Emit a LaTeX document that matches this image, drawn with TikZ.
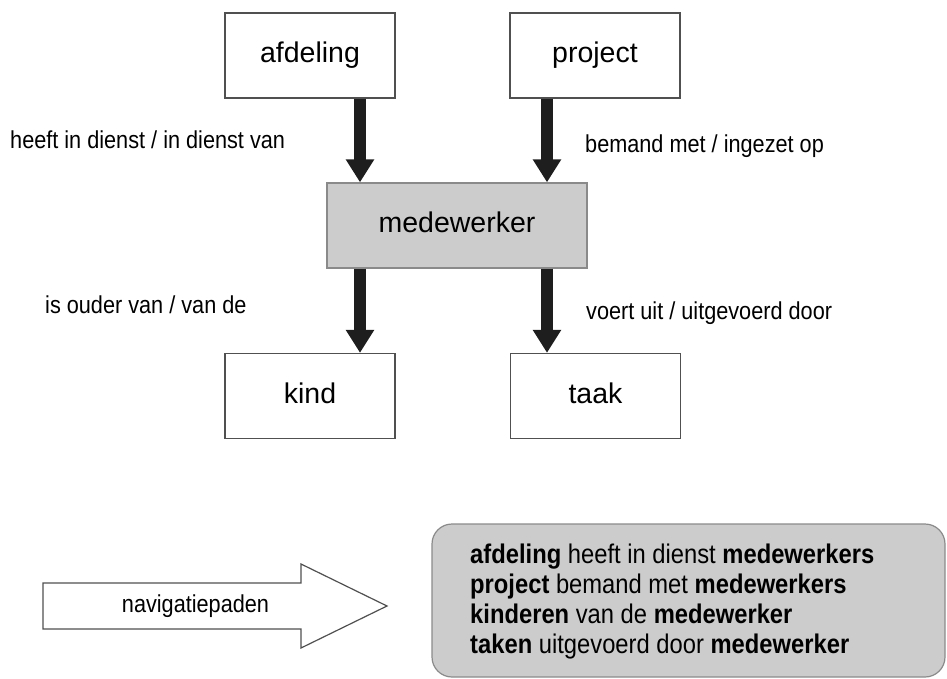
\documentclass[tikz,border=0pt]{standalone}
\usepackage{fontspec}
\setmainfont{Liberation Sans}
\newfontfamily\narrowfont[FakeStretch=0.885]{Liberation Sans}
\newfontfamily\panelfont[FakeStretch=0.88]{Liberation Sans}
\usetikzlibrary{arrows.meta}

\definecolor{boxline}{HTML}{505050}
\definecolor{greyfill}{HTML}{CCCCCC}
\definecolor{greyline}{HTML}{8A8A8A}
\definecolor{arrowink}{HTML}{1E1E1E}

\begin{document}
\begin{tikzpicture}[x=1pt,y=-1pt,
  entity/.style={draw=boxline, line width=1.3pt, fill=white,
    minimum width=170pt, minimum height=85pt, inner sep=0pt,
    font=\fontsize{28.5}{34}\selectfont, text height=21pt, text depth=6pt},
  central/.style={entity, fill=greyfill, draw=greyline, minimum width=260pt},
  relation/.style={anchor=base west, inner sep=0pt,
    font=\narrowfont\fontsize{24.5}{28}\selectfont},
  navline/.style={anchor=base west, inner sep=0pt,
    font=\panelfont\fontsize{27}{30}\selectfont},
  bigarrow/.style={draw=arrowink, line width=12pt,
    -{Triangle[width=27pt,length=23pt]}},
  navarrow/.style={draw=boxline, line width=1.2pt, fill=white, line join=miter},
  panel/.style={draw=greyline, line width=1.2pt, fill=greyfill,
    rounded corners=20pt, minimum width=513pt, minimum height=153pt, inner sep=0pt}
]
\useasboundingbox (0,0) rectangle (947,679);

% entities
\node[entity]  (afd)  at (310,55.5)  {afdeling};
\node[entity]  (proj) at (595,55.5)  {project};
\node[central] (med)  at (457,225.5) {medewerker};
\node[entity]  (kind) at (310,396)   {kind};
\node[entity]  (taak) at (595.5,396) {taak};

% columns of the relation arrows
\coordinate (xl) at (360,0);
\coordinate (xr) at (547,0);

\draw[bigarrow] (afd.south -| xl)  -- (med.north -| xl);
\draw[bigarrow] (proj.south -| xr) -- (med.north -| xr);
\draw[bigarrow] (med.south -| xl)  -- (kind.north -| xl);
\draw[bigarrow] (med.south -| xr)  -- (taak.north -| xr);

% relation names
\node[relation] (r1) at (10,149)  {heeft in dienst / in dienst van};
\node[relation] (r2) at (585,153) {bemand met / ingezet op};
\node[relation] (r3) at (45,313)  {is ouder van / van de};
\node[relation] (r4) at (586,319) {voert uit / uitgevoerd door};

% navigation arrow
\draw[navarrow] (43,583) -- (301,583) -- (301,564) -- (387,606)
  -- (301,648) -- (301,629) -- (43,629) -- cycle;
\node[relation, anchor=base] (nav) at (195.5,612) {navigatiepaden};

% navigation paths
\node[panel] (paths) at (688.5,600.5) {};
\node[navline] (p1) at (470,563) {\bfseries afdeling\mdseries{} heeft in dienst \bfseries medewerkers};
\node[navline] (p2) at (470,593) {\bfseries project\mdseries{} bemand met \bfseries medewerkers};
\node[navline] (p3) at (470,623) {\bfseries kinderen\mdseries{} van de \bfseries medewerker};
\node[navline] (p4) at (470,653) {\bfseries taken\mdseries{} uitgevoerd door \bfseries medewerker};
\end{tikzpicture}
\end{document}
